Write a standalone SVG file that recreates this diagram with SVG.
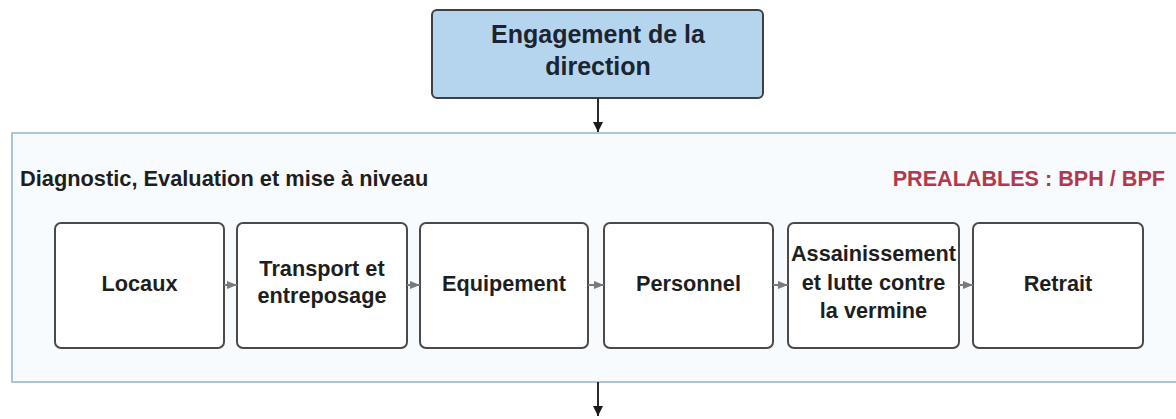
<svg xmlns="http://www.w3.org/2000/svg" width="1176" height="419" viewBox="0 0 1176 419">
  <style>
    .txt { font-family: "Liberation Sans", Arial, sans-serif; font-weight: bold; }
    .step rect { fill: #ffffff; stroke: #4a4a4a; stroke-width: 2; }
    .step text { font-size: 21.7px; fill: #1e1e1e; text-anchor: middle; }
    .flow { stroke: #7a7a7a; stroke-width: 2; fill: none; marker-end: url(#grayHead); }
    .main { stroke: #2a2a2a; stroke-width: 2; fill: none; marker-end: url(#darkHead); }
  </style>
  <defs>
    <marker id="grayHead" viewBox="0 0 10 10" refX="10" refY="5" markerWidth="5" markerHeight="5" markerUnits="strokeWidth" orient="auto">
      <path d="M0,1 L10,5 L0,9 Z" fill="#7a7a7a"/>
    </marker>
    <marker id="darkHead" viewBox="0 0 10 10" refX="10" refY="5" markerWidth="5" markerHeight="5" markerUnits="strokeWidth" orient="auto">
      <path d="M0,0 L10,5 L0,10 Z" fill="#1a1a1a"/>
    </marker>
  </defs>

  <rect width="1176" height="419" fill="#ffffff"/>

  <!-- Top: management commitment -->
  <g id="engagement">
    <rect x="432" y="10" width="331" height="88" rx="5" fill="#b5d4ee" stroke="#3c3f44" stroke-width="2"/>
    <text class="txt" x="598" y="43" font-size="25" fill="#1b2430" text-anchor="middle">Engagement de la</text>
    <text class="txt" x="598" y="75" font-size="25" fill="#1b2430" text-anchor="middle">direction</text>
  </g>

  <!-- Container: diagnostic phase -->
  <g id="diagnostic">
    <rect x="12" y="133" width="1180" height="249" fill="#f8fbfe" stroke="#a9c6df" stroke-width="2"/>
    <text class="txt" x="20" y="186" font-size="21.8" fill="#1e1e1e">Diagnostic, Evaluation et mise à niveau</text>
    <text class="txt" x="1165" y="186" font-size="21.6" fill="#b03a4c" text-anchor="end">PREALABLES : BPH / BPF</text>
  </g>

  <g id="locaux" class="step txt">
    <rect x="55" y="223" width="169" height="125" rx="6"/>
    <text x="139.5" y="291">Locaux</text>
  </g>
  <g id="transport" class="step txt">
    <rect x="237" y="223" width="170" height="125" rx="6"/>
    <text x="322" y="276">Transport et</text>
    <text x="322" y="303">entreposage</text>
  </g>
  <g id="equipement" class="step txt">
    <rect x="420" y="223" width="168" height="125" rx="6"/>
    <text x="504" y="291">Equipement</text>
  </g>
  <g id="personnel" class="step txt">
    <rect x="604" y="223" width="169" height="125" rx="6"/>
    <text x="688.5" y="291">Personnel</text>
  </g>
  <g id="assainissement" class="step txt">
    <rect x="788" y="223" width="171" height="125" rx="6"/>
    <text x="873.5" y="261">Assainissement</text>
    <text x="873.5" y="290">et lutte contre</text>
    <text x="873.5" y="318">la vermine</text>
  </g>
  <g id="retrait" class="step txt">
    <rect x="973" y="223" width="170" height="125" rx="6"/>
    <text x="1058" y="291">Retrait</text>
  </g>

  <!-- Connectors -->
  <g id="connectors">
    <path class="main" d="M598,98 V132"/>
    <path class="flow" d="M224,285 H237"/>
    <path class="flow" d="M407,285 H420"/>
    <path class="flow" d="M588,285 H604"/>
    <path class="flow" d="M773,285 H788"/>
    <path class="flow" d="M959,285 H973"/>
    <path class="main" d="M598,382 V416"/>
  </g>
</svg>
